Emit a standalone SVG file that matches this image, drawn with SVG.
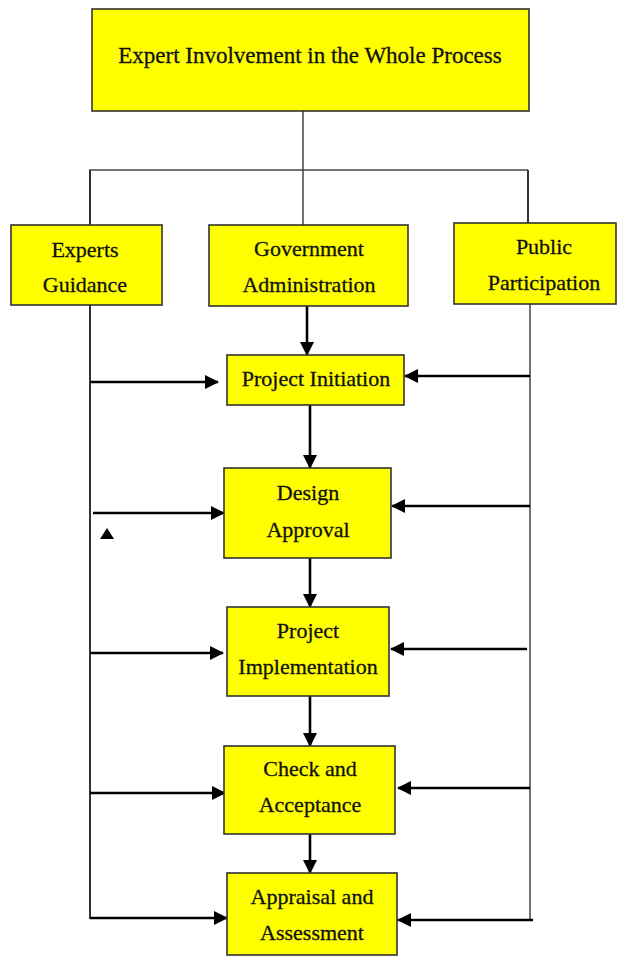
<svg xmlns="http://www.w3.org/2000/svg" width="628" height="961" viewBox="0 0 628 961">
  <style>
    .box { fill: #ffff00; stroke: #333; stroke-width: 1.6; }
    .lbl { font-family: "Liberation Serif", "Times New Roman", serif; font-size: 22px; fill: #111; stroke: #111; stroke-width: 0.3; text-anchor: middle; }
    .title { font-size: 23px; }
    .thin { stroke: #444; stroke-width: 1.5; fill: none; }
    .trunk { stroke: #333; stroke-width: 2; fill: none; }
    .arr { stroke: #000; stroke-width: 2.6; fill: none; marker-end: url(#ah); }
  </style>
  <defs>
    <marker id="ah" markerUnits="userSpaceOnUse" markerWidth="14" markerHeight="15" viewBox="0 0 14 15" refX="13" refY="7.5" orient="auto">
      <path d="M0,0.5 L14,7.5 L0,14.5 Z" fill="#000"/>
    </marker>
  </defs>
  <rect width="628" height="961" fill="#fff"/>

  <g id="connectors">
    <line class="thin" x1="303" y1="111" x2="303" y2="225"/>
    <line class="thin" x1="89" y1="170" x2="528" y2="170"/>
    <line class="trunk" x1="90" y1="170" x2="90" y2="225"/>
    <line class="trunk" x1="528" y1="170" x2="528" y2="223"/>
    <line class="trunk" x1="90" y1="305" x2="90" y2="919"/>
    <line class="thin" x1="530" y1="304" x2="530" y2="921"/>

    <line class="arr" x1="307" y1="306" x2="307" y2="355"/>
    <line class="arr" x1="310" y1="405" x2="310" y2="468"/>
    <line class="arr" x1="310" y1="558" x2="310" y2="607"/>
    <line class="arr" x1="310" y1="696" x2="310" y2="746"/>
    <line class="arr" x1="310" y1="834" x2="310" y2="873"/>

    <line class="arr" x1="90" y1="382" x2="218" y2="382"/>
    <line class="arr" x1="93" y1="513" x2="224" y2="513"/>
    <line class="arr" x1="90" y1="653" x2="223" y2="653"/>
    <line class="arr" x1="90" y1="793" x2="225" y2="793"/>
    <line class="arr" x1="90" y1="918" x2="227" y2="918"/>

    <line class="arr" x1="530" y1="376" x2="405" y2="376"/>
    <line class="arr" x1="530" y1="506" x2="392" y2="506"/>
    <line class="arr" x1="527" y1="649" x2="391" y2="649"/>
    <line class="arr" x1="530" y1="788" x2="398" y2="788"/>
    <line class="arr" x1="533" y1="920" x2="398" y2="920"/>

    <path d="M100,539 L114,539 L107,528 Z" fill="#000"/>
  </g>

  <g id="top">
    <rect class="box" x="92" y="9" width="437" height="102"/>
    <text class="lbl title" x="310" y="63">Expert Involvement in the Whole Process</text>
  </g>
  <g id="experts">
    <rect class="box" x="11" y="225" width="151" height="80"/>
    <text class="lbl" x="85" y="257">Experts</text>
    <text class="lbl" x="85" y="292">Guidance</text>
  </g>
  <g id="government">
    <rect class="box" x="209" y="225" width="199" height="81"/>
    <text class="lbl" x="309" y="256">Government</text>
    <text class="lbl" x="309" y="292">Administration</text>
  </g>
  <g id="public">
    <rect class="box" x="454" y="223" width="162" height="81"/>
    <text class="lbl" x="544" y="254">Public</text>
    <text class="lbl" x="544" y="290">Participation</text>
  </g>
  <g id="initiation">
    <rect class="box" x="227" y="355" width="177" height="50"/>
    <text class="lbl" x="316" y="386">Project Initiation</text>
  </g>
  <g id="design">
    <rect class="box" x="224" y="468" width="167" height="90"/>
    <text class="lbl" x="308" y="500">Design</text>
    <text class="lbl" x="308" y="537">Approval</text>
  </g>
  <g id="implementation">
    <rect class="box" x="227" y="607" width="162" height="89"/>
    <text class="lbl" x="308" y="638">Project</text>
    <text class="lbl" x="308" y="674">Implementation</text>
  </g>
  <g id="check">
    <rect class="box" x="224" y="746" width="171" height="88"/>
    <text class="lbl" x="310" y="776">Check and</text>
    <text class="lbl" x="310" y="812">Acceptance</text>
  </g>
  <g id="appraisal">
    <rect class="box" x="227" y="873" width="170" height="82"/>
    <text class="lbl" x="312" y="904">Appraisal and</text>
    <text class="lbl" x="312" y="940">Assessment</text>
  </g>
</svg>
